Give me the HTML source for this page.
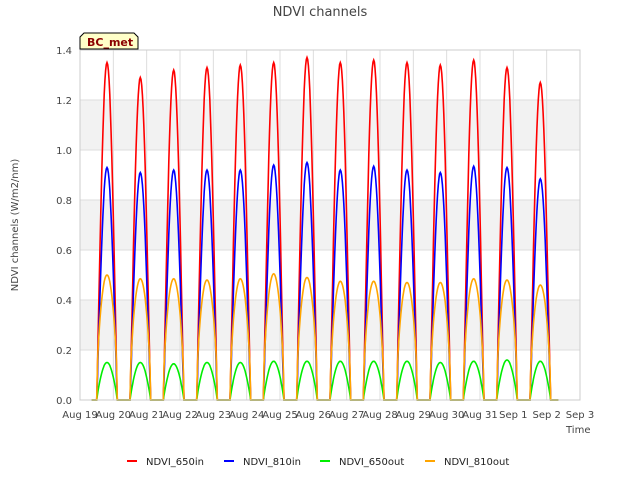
<!DOCTYPE html>
<html><head><meta charset="utf-8"><style>
body{margin:0;background:#fff;font-family:"Liberation Sans","DejaVu Sans",sans-serif}
</style></head><body>
<svg id="c" width="640" height="480" xmlns="http://www.w3.org/2000/svg" font-family="DejaVu Sans, Liberation Sans, sans-serif">
<text x="320" y="16" text-anchor="middle" font-size="13" fill="#444">NDVI channels</text>
<text transform="translate(18,225) rotate(-90)" text-anchor="middle" font-size="10" fill="#444">NDVI channels (W/m2/nm)</text>
<text x="566" y="433" font-size="10" fill="#444">Time</text>
<g id="grid"></g>
<g id="series"></g>
<g id="axes"></g>
<g>
<path d="M80,49 L80,37 L84,33 L134,33 L138,37 L138,49 Z" fill="#ffffc8" stroke="#000" stroke-width="1"/>
<text x="87" y="46" font-size="11" font-weight="bold" fill="#8b0000">BC_met</text>
</g>
<g id="legend"></g>
</svg>
<script>
const days=["Aug 19","Aug 20","Aug 21","Aug 22","Aug 23","Aug 24","Aug 25","Aug 26","Aug 27","Aug 28","Aug 29","Aug 30","Aug 31","Sep 1","Sep 2","Sep 3"];
const yTicks=[0,0.2,0.4,0.6,0.8,1.0,1.2,1.4];
const peak650in=[1.35,1.29,1.32,1.33,1.34,1.35,1.37,1.35,1.36,1.35,1.34,1.36,1.33,1.27];
const peak810in=[0.93,0.91,0.92,0.92,0.92,0.94,0.95,0.92,0.935,0.92,0.91,0.935,0.93,0.885];
const peak650out=[0.15,0.15,0.145,0.15,0.15,0.155,0.155,0.155,0.155,0.155,0.15,0.155,0.16,0.155];
const peak810out=[0.50,0.485,0.485,0.48,0.485,0.505,0.49,0.475,0.475,0.47,0.47,0.485,0.48,0.46];
const X0=80,X1=580,Y0=400,Y1=50;
const xs=d=>X0+d*(X1-X0)/15;
const ys=v=>Y0-v*(Y0-Y1)/1.4;
const NS="http://www.w3.org/2000/svg";
function mk(tag,attrs,parent){const e=document.createElementNS(NS,tag);for(const k in attrs)e.setAttribute(k,attrs[k]);parent.appendChild(e);return e;}
const grid=document.getElementById('grid'),axes=document.getElementById('axes'),ser=document.getElementById('series'),leg=document.getElementById('legend');
for(let i=0;i<yTicks.length-1;i++){if(i%2==1){const r=mk('rect',{x:X0,y:ys(yTicks[i+1]),width:X1-X0,height:ys(yTicks[i])-ys(yTicks[i+1]),fill:'#f2f2f2'},grid);}}
yTicks.forEach(v=>{const l=mk('line',{x1:X0,x2:X1,y1:ys(v),y2:ys(v),stroke:'#ddd'},grid);
const t=mk('text',{x:X0-8,y:ys(v)+4,'text-anchor':'end','font-size':10,fill:'#444'},axes);t.textContent=v.toFixed(1);});
days.forEach((d,i)=>{const l=mk('line',{x1:xs(i),x2:xs(i),y1:Y1,y2:Y0,stroke:'#ddd'},grid);
const t=mk('text',{x:xs(i),y:Y0+18,'text-anchor':'middle','font-size':10,fill:'#444'},axes);t.textContent=d;});
mk('rect',{x:X0,y:Y1,width:X1-X0,height:Y0-Y1,fill:'none',stroke:'#ccc'},axes);
function path(peaks,pw){let pts=[[0.35,0]];peaks.forEach((p,i)=>{const s=i+0.5,w=0.62;pts.push([s,0]);for(let k=1;k<30;k++){const f=k/30;pts.push([s+f*w,p*Math.pow(Math.sin(Math.PI*f),pw)]);}pts.push([s+w,0]);});pts.push([peaks.length+0.35,0]);return pts.map((q,j)=>(j?'L':'M')+xs(q[0]).toFixed(1)+','+ys(q[1]).toFixed(1)).join('');}
const series=[["NDVI_650in",peak650in,"#ff0000",1.1],["NDVI_810in",peak810in,"#0000ff",1.1],["NDVI_650out",peak650out,"#00ee00",0.9],["NDVI_810out",peak810out,"#ffa500",0.6]];
series.forEach(s=>{const p=mk('path',{d:path(s[1],s[3]),fill:'none',stroke:s[2],'stroke-width':1.6},ser);});
const lx=[127,224,320,425];
series.forEach((s,i)=>{const g=mk('g',{},leg);
mk('line',{x1:lx[i],x2:lx[i]+10,y1:461,y2:461,stroke:s[2],'stroke-width':2},g);
const t=mk('text',{x:lx[i]+19,y:465,'font-size':10,fill:'#222'},g);t.textContent=s[0];});
</script>
</body></html>
